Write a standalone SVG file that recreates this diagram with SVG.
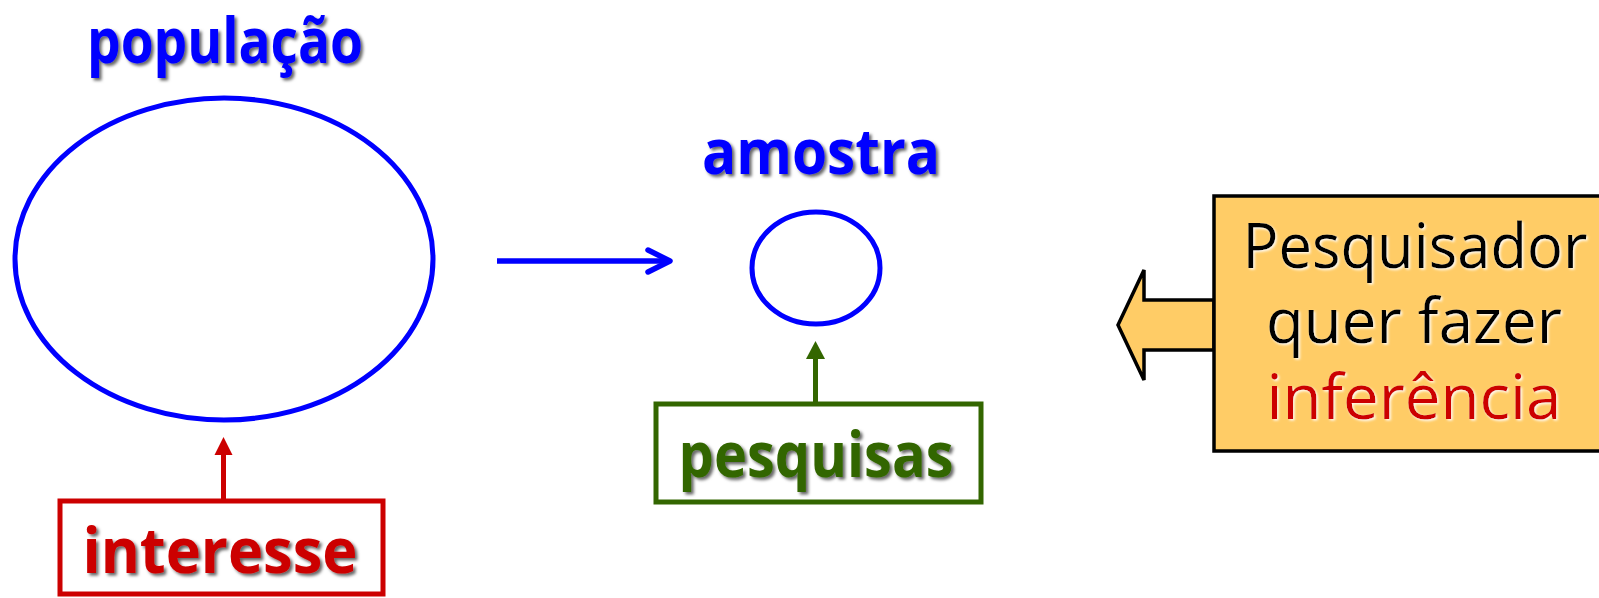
<svg xmlns="http://www.w3.org/2000/svg" width="1599" height="598" viewBox="0 0 1599 598">
  <defs>
    <filter id="shadow" x="-10%" y="-20%" width="120%" height="150%">
      <feDropShadow dx="2.5" dy="2.5" stdDeviation="1.5" flood-color="#000" flood-opacity="0.6"/>
    </filter>
    <filter id="glow" x="-10%" y="-20%" width="120%" height="150%">
      <feDropShadow dx="1.5" dy="1.5" stdDeviation="1.2" flood-color="#fff" flood-opacity="0.9"/>
    </filter>
  </defs>
  <style>
    .lbl { font-family: "Open Sans", "DejaVu Sans", sans-serif; font-weight: bold; font-size: 62px; text-anchor: middle; filter: url(#shadow); }
    .note { font-family: "Open Sans", "DejaVu Sans", sans-serif; font-size: 63px; text-anchor: middle; filter: url(#glow); }
    .blue { fill: #0000FF; }
    .red { fill: #CC0000; }
    .green { fill: #336600; }
    .set { fill: none; stroke: #0000FF; stroke-width: 5; }
  </style>

  <rect width="1599" height="598" fill="#ffffff"/>

  <!-- population set -->
  <g id="populacao">
    <text class="lbl blue" x="225" y="63" textLength="276" lengthAdjust="spacingAndGlyphs">população</text>
    <ellipse class="set" cx="224" cy="259" rx="209" ry="161"/>
  </g>

  <!-- sample set -->
  <g id="amostra">
    <text class="lbl blue" x="821" y="174" textLength="238" lengthAdjust="spacingAndGlyphs">amostra</text>
    <ellipse class="set" cx="816" cy="268" rx="64" ry="56"/>
  </g>

  <!-- interest label -->
  <g id="interesse">
    <rect x="60" y="501" width="323" height="93" fill="#fff" stroke="#CC0000" stroke-width="5"/>
    <text class="lbl red" x="220" y="573" textLength="275" lengthAdjust="spacingAndGlyphs">interesse</text>
  </g>

  <!-- research label -->
  <g id="pesquisas">
    <rect x="656" y="404" width="325" height="98" fill="#fff" stroke="#336600" stroke-width="5"/>
    <text class="lbl green" x="816" y="477" textLength="275" lengthAdjust="spacingAndGlyphs">pesquisas</text>
  </g>

  <!-- researcher note with block arrow -->
  <g id="pesquisador">
    <path d="M1214 300 L1144 300 L1144 270 L1118 325 L1144 380 L1144 350 L1214 350 Z" fill="#FFCC66" stroke="#000" stroke-width="3.5" stroke-linejoin="miter"/>
    <rect x="1214" y="196" width="400" height="255" fill="#FFCC66" stroke="#000" stroke-width="3.5"/>
    <text class="note" x="1415" y="268" fill="#000" textLength="345" lengthAdjust="spacingAndGlyphs">Pesquisador</text>
    <text class="note" x="1414" y="343" fill="#000" textLength="296" lengthAdjust="spacingAndGlyphs">quer fazer</text>
    <text class="note" x="1414" y="419" fill="#CC0000" textLength="295" lengthAdjust="spacingAndGlyphs">inferência</text>
  </g>

  <!-- connectors -->
  <g id="connectors">
    <line x1="497" y1="261" x2="669" y2="261" stroke="#0000FF" stroke-width="5.5"/>
    <polyline points="648,250 670,261 648,272" fill="none" stroke="#0000FF" stroke-width="5.5" stroke-linecap="round" stroke-linejoin="round"/>
    <line x1="223.5" y1="499" x2="223.5" y2="452" stroke="#CC0000" stroke-width="5"/>
    <polygon points="223.5,437 232.5,455 214.5,455" fill="#CC0000"/>
    <line x1="815.5" y1="402" x2="815.5" y2="356" stroke="#336600" stroke-width="5"/>
    <polygon points="815.5,341 825,359 806,359" fill="#336600"/>
  </g>
</svg>
